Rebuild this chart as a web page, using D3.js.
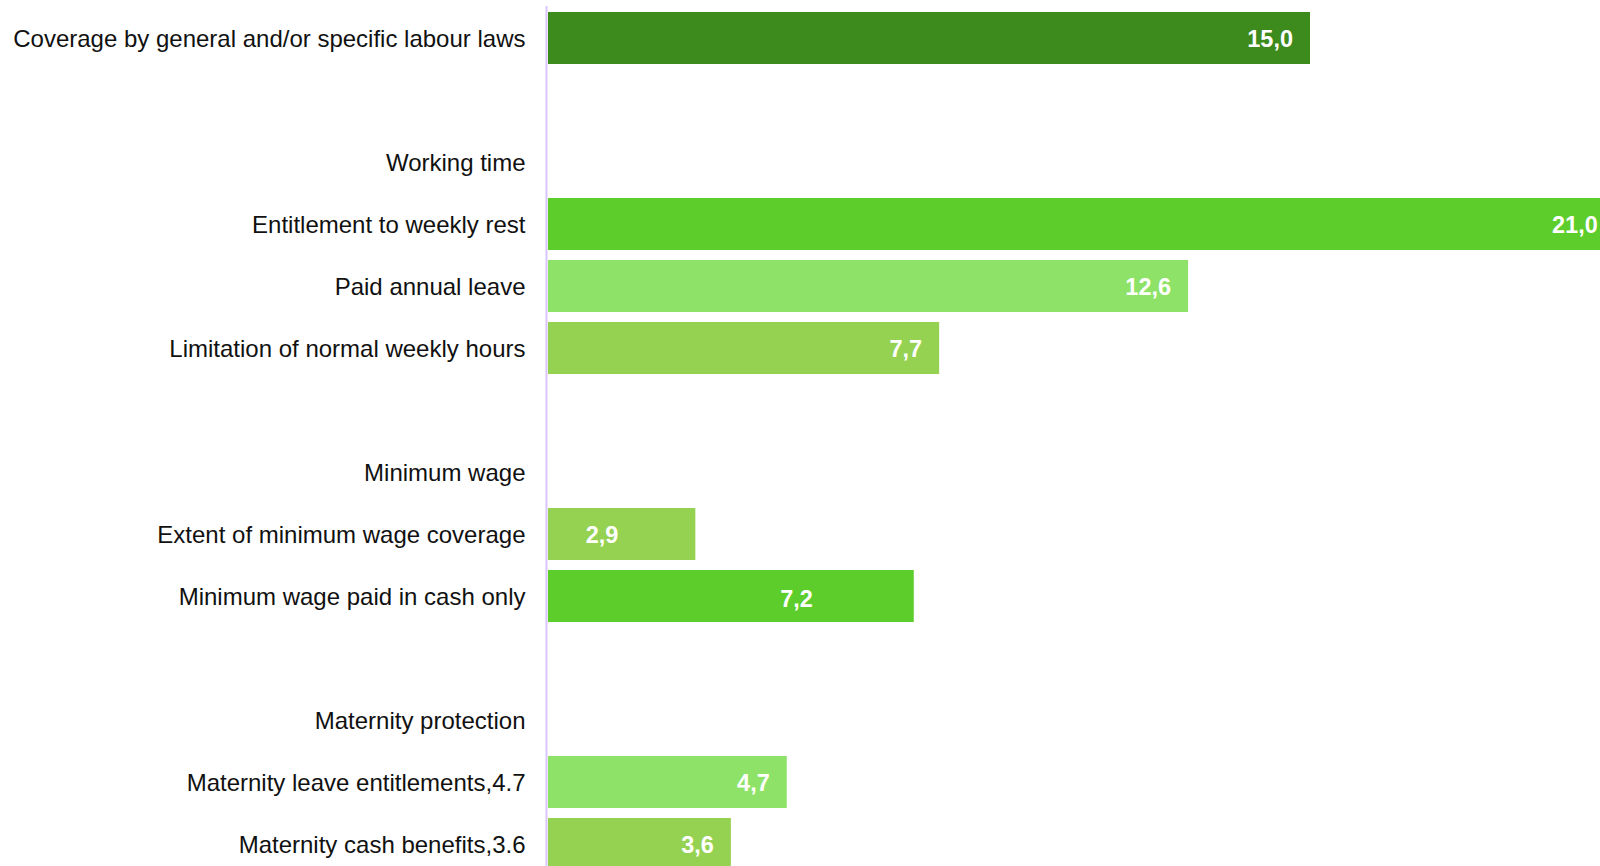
<!DOCTYPE html>
<html>
<head>
<meta charset="utf-8">
<script src="https://cdn.jsdelivr.net/npm/d3@7"></script>
<style>
  html, body { margin: 0; padding: 0; background: #fff; overflow: hidden; }
  svg { display: block; font-family: "Liberation Sans", Arial, sans-serif; }
</style>
</head>
<body>
<svg id="chart" width="1600" height="866"></svg>
<script>
// ---------- DATA ----------
const categories = [
  "Coverage by general and/or specific labour laws",
  "",
  "Working time",
  "Entitlement to weekly rest",
  "Paid annual leave",
  "Limitation of normal weekly hours",
  "",
  "Minimum wage",
  "Extent of minimum wage coverage",
  "Minimum wage paid in cash only",
  "",
  "Maternity protection",
  "Maternity leave entitlements,4.7",
  "Maternity cash benefits,3.6"
];
const values = [15.0, null, null, 21.0, 12.6, 7.7, null, null, 2.9, 7.2, null, null, 4.7, 3.6];
const barColors = ["#3d8a1d", null, null, "#5ccd2a", "#8fe268", "#96d252", null, null,
  "#96d252", "#5ccd2a", null, null, "#8fe268", "#96d252"];
// where the value label ends (in value units), when it is not at the bar end
const labelAt = [null, null, null, null, null, null, null, null, 1.72, 5.55, null, null, null, null];

const svg = d3.select("#chart");

const rows = categories.map((c, i) => ({
  id: i, name: c, value: values[i], color: barColors[i], labelAt: labelAt[i]
}));

// Scales
const x = d3.scaleLinear()
  .domain([0, 15])
  .range([548, 1310]);

const y = d3.scaleBand()
  .domain(rows.map(d => d.id))
  .range([12, 12 + 13 * 62 + 52])
  .paddingInner(10 / 62)
  .paddingOuter(0);

const fmt = v => d3.format(".1f")(v).replace(".", ",");

// ---------- BARS ----------
const bars = rows.filter(d => d.value != null);

svg.append("g")
  .selectAll("rect")
  .data(bars)
  .join("rect")
  .attr("x", x(0))
  .attr("y", d => y(d.id))
  .attr("width", d => x(d.value) - x(0))
  .attr("height", y.bandwidth())
  .attr("fill", d => d.color);

// value labels
svg.append("g")
  .selectAll("text")
  .data(bars)
  .join("text")
  .attr("x", d => (d.labelAt != null ? x(d.labelAt) : x(d.value)) - 17)
  .attr("y", d => y(d.id) + y.bandwidth() / 2 + (d.labelAt != null && d.value > 5 ? 3 : 0.5))
  .attr("dy", "0.35em")
  .attr("text-anchor", "end")
  .attr("fill", "#ffffff")
  .style("font-size", "23.5px")
  .style("font-weight", "bold")
  .text(d => fmt(d.value));

// ---------- AXIS ----------
const yAxis = d3.axisLeft(y)
  .tickSize(0)
  .tickPadding(21)
  .tickFormat(i => categories[i]);

const axisG = svg.append("g")
  .attr("transform", `translate(${x(0) - 1.5},0)`)
  .call(yAxis);

axisG.select(".domain")
  .attr("d", `M0,6V866`)
  .attr("stroke", "#d9c6ff")
  .attr("stroke-width", 2);

axisG.selectAll(".tick text")
  .attr("fill", "#111")
  .attr("dy", "0.35em")
  .attr("y", 0.5)
  .style("font-size", "24px")
  .style("font-family", "'Liberation Sans', Arial, sans-serif");
</script>
</body>
</html>
